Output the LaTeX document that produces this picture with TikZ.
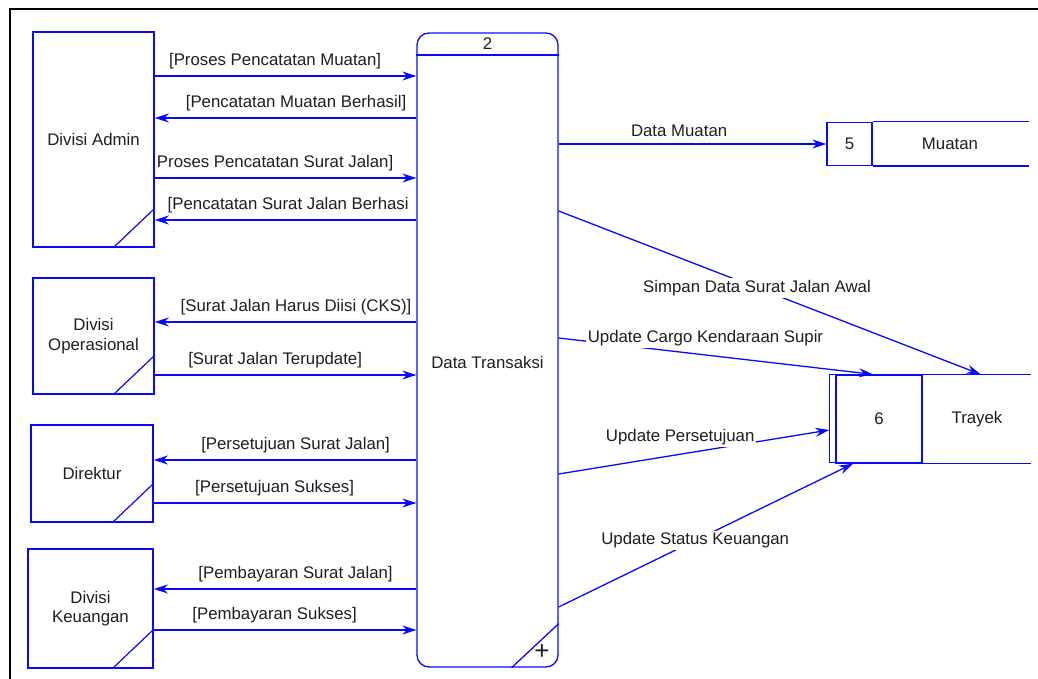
\documentclass[tikz,border=0pt]{standalone}
\usepackage{fontspec}
\setmainfont{Liberation Sans}
\usetikzlibrary{arrows.meta}

\definecolor{dfdblue}{RGB}{10,10,250}
\definecolor{teks}{RGB}{30,30,30}

\tikzset{
  entitas/.style={draw=dfdblue, line width=1.6pt, align=center, text=teks,
    path picture={\draw[dfdblue, line width=1.2pt]
      ([xshift=-40pt]path picture bounding box.south east) --
      ([yshift=38pt]path picture bounding box.south east);}},
  proses/.style={draw=dfdblue, line width=1.3pt, rounded corners=12pt,
    minimum width=141pt, minimum height=634pt},
  idbox/.style={draw=dfdblue, line width=1.3pt, text=teks},
  garis/.style={dfdblue, line width=1.3pt},
  aliran/.style={dfdblue, line width=1.3pt, -{Stealth[length=14pt,width=9pt]}},
  lbl/.style={text=teks, above=3pt, pos=0.46},
  lblw/.style={text=teks, fill=white, inner sep=2pt},
}

\begin{document}
\begin{tikzpicture}[x=1pt, y=-1pt, font=\fontsize{16.8}{19.5}\selectfont]
\useasboundingbox (0,0) rectangle (1038,679);
\draw[black, line width=2pt] (10,679) -- (10,9) -- (1038,9);

% entitas luar
\node[entitas, minimum width=121pt, minimum height=215pt] (admin) at (93.5,139.5) {Divisi Admin};
\node[entitas, minimum width=121pt, minimum height=116pt] (opr) at (93.5,336) {Divisi\\Operasional};
\node[entitas, minimum width=122pt, minimum height=97pt] (dir) at (92,473.5) {Direktur};
\node[entitas, minimum width=125pt, minimum height=119pt] (keu) at (90.5,608.5) {Divisi\\Keuangan};

% proses 2
\node[proses] (p2) at (487.5,350) {};
\draw[garis] (p2.west |- 0,55) -- (p2.east |- 0,55);
\node[text=teks] (p2no) at (487.5,44) {2};
\node[text=teks] (p2nama) at (487.5,362) {Data Transaksi};
\draw[garis] ([xshift=-47pt]p2.south east) -- ([yshift=44pt]p2.south east);
\node[text=teks, font=\fontsize{26}{26}\selectfont] (p2plus) at (542,652) {+};

% data store
\node[idbox, minimum width=45pt, minimum height=43pt] (s5) at (849.5,144) {5};
\node[text=teks] (s5nama) at (950,144) {Muatan};
\draw[garis] (s5.north east) -- ++(156,0);
\draw[garis] (s5.south east) -- ++(156,0);

\node[idbox, minimum width=86pt, minimum height=88pt] (s6) at (879,419) {6};
\node[text=teks] (s6nama) at (977,419) {Trayek};
\draw[garis] (s6.north west) -- ++(-6,0) -- ++(0,88) -- ++(6,0);
\draw[garis] (s6.north east) -- ++(108,0);
\draw[garis] (s6.south east) -- ++(108,0);

% aliran kiri
\draw[aliran] (admin.east |- 0,76) -- node[lbl] {[Proses Pencatatan Muatan]} (p2.west |- 0,76);
\draw[aliran] (p2.west |- 0,118) -- node[lbl] {[Pencatatan Muatan Berhasil]} (admin.east |- 0,118);
\draw[aliran] (admin.east |- 0,178) -- node[lbl] {Proses Pencatatan Surat Jalan]} (p2.west |- 0,178);
\draw[aliran] (p2.west |- 0,220) -- node[lbl, pos=0.49] {[Pencatatan Surat Jalan Berhasi} (admin.east |- 0,220);

\draw[aliran] (p2.west |- 0,322) -- node[lbl] {[Surat Jalan Harus Diisi (CKS)]} (opr.east |- 0,322);
\draw[aliran] (opr.east |- 0,375) -- node[lbl] {[Surat Jalan Terupdate]} (p2.west |- 0,375);

\draw[aliran] (p2.west |- 0,460) -- node[lbl] {[Persetujuan Surat Jalan]} (dir.east |- 0,460);
\draw[aliran] (dir.east |- 0,503) -- node[lbl] {[Persetujuan Sukses]} (p2.west |- 0,503);

\draw[aliran] (p2.west |- 0,589) -- node[lbl] {[Pembayaran Surat Jalan]} (keu.east |- 0,589);
\draw[aliran] (keu.east |- 0,630) -- node[lbl] {[Pembayaran Sukses]} (p2.west |- 0,630);

% aliran kanan
\draw[aliran] (p2.east |- s5.west) -- node[lbl, pos=0.45] {Data Muatan} (s5.west);
\draw[aliran] (p2.east |- 0,211) -- node[lblw, pos=0.47] {Simpan Data Surat Jalan Awal} ([xshift=58pt]s6.north east);
\draw[aliran] (p2.east |- 0,338) -- node[lblw, pos=0.467, yshift=17pt] {Update Cargo Kendaraan Supir} ([xshift=-6pt]s6.north);
\draw[aliran] (p2.east |- 0,474) -- node[lblw, pos=0.449, yshift=17pt] {Update Persetujuan} ([xshift=-6pt, yshift=-11pt]s6.west);
\draw[aliran] (p2.east |- 0,607) -- node[lblw, pos=0.464] {Update Status Keuangan} ([xshift=-26pt]s6.south);
\end{tikzpicture}
\end{document}
